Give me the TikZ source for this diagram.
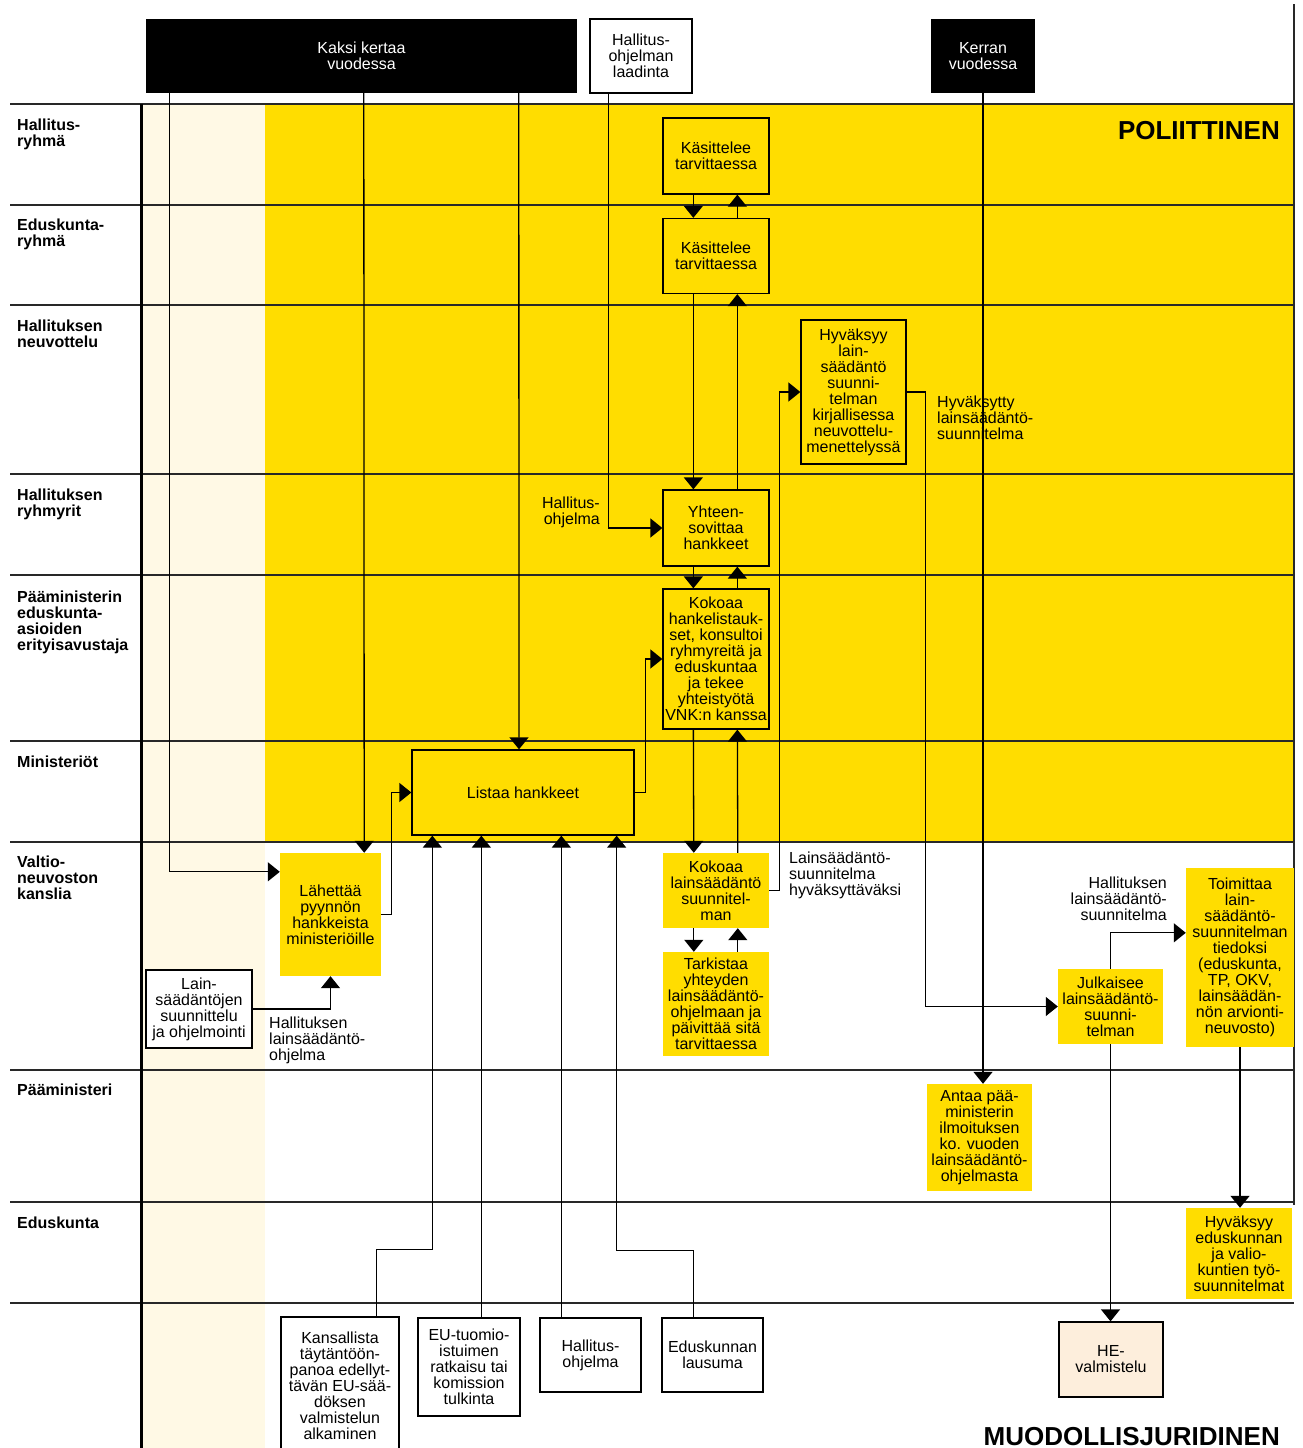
\documentclass[tikz,border=0pt]{standalone}
\usepackage{fontspec}
\setmainfont{Liberation Sans}
\usepackage{tikz}
\usetikzlibrary{arrows.meta}
\usetikzlibrary{calc}

\begin{document}
\begin{tikzpicture}[x=1pt,y=1pt,yscale=-1,xscale=1,
  box/.style={align=center, inner sep=0pt, font=\fontsize{16}{16}\selectfont},
  ybox/.style={box, draw, line width=1.3pt, fill={rgb, 255:red, 255; green, 221; blue, 0 }},
  yfill/.style={box, fill={rgb, 255:red, 255; green, 221; blue, 0 }},
  wbox/.style={box, draw, line width=1.3pt, fill=white},
  bbox/.style={box, fill=black, text=white},
  hebox/.style={box, draw, line width=1.3pt, fill={rgb, 255:red, 253; green, 238; blue, 220 }},
  arr/.style={line width=1.3pt, -{Triangle[width=19pt,length=12pt]}},
  laneline/.style={line width=1.2pt, color={rgb, 255:red, 40; green, 40; blue, 40 }},
  lanetext/.style={anchor=north west, align=left, inner sep=0pt, font=\fontsize{16}{16}\selectfont\bfseries},
  note/.style={align=left, inner sep=0pt, font=\fontsize{16}{16}\selectfont},
  big/.style={inner sep=0pt, font=\fontsize{26}{26}\selectfont\bfseries}
]
\useasboundingbox (0,0) rectangle (1302,1448);
\clip (0,0) rectangle (1302,1448);

%Shape: Rectangle
\fill [fill={rgb, 255:red, 255; green, 249; blue, 229 }] (141,104) rectangle (265,1448);
%Shape: Rectangle
\fill [fill={rgb, 255:red, 255; green, 221; blue, 0 }] (265,104) rectangle (1294,842);

%Straight Lines
\draw [laneline] (10,104) -- (1294,104);
\draw [laneline] (10,205) -- (1294,205);
\draw [laneline] (10,305) -- (1294,305);
\draw [laneline] (10,474) -- (1294,474);
\draw [laneline] (10,575) -- (1294,575);
\draw [laneline] (10,741) -- (1294,741);
\draw [laneline] (10,842) -- (1294,842);
\draw [laneline] (10,1070) -- (1294,1070);
\draw [laneline] (10,1202) -- (1294,1202);
\draw [laneline] (10,1303) -- (1294,1303);
%Straight Lines
\draw [laneline] (1294,4) -- (1294,1205);
%Straight Lines
\draw [line width=3pt] (141,104) -- (141,1448);

% Text Node
\draw (17,119) node [lanetext] (laneHr) {Hallitus-\\ryhmä};
% Text Node
\draw (17,219) node [lanetext] (laneEr) {Eduskunta-\\ryhmä};
% Text Node
\draw (17,320) node [lanetext] (laneHn) {Hallituksen\\neuvottelu};
% Text Node
\draw (17,489) node [lanetext] (laneHry) {Hallituksen\\ryhmyrit};
% Text Node
\draw (17,591) node [lanetext] (lanePme) {Pääministerin\\eduskunta-\\asioiden\\erityisavustaja};
% Text Node
\draw (17,756) node [lanetext] (laneMin) {Ministeriöt};
% Text Node
\draw (17,856) node [lanetext] (laneVnk) {Valtio-\\neuvoston\\kanslia};
% Text Node
\draw (17,1084) node [lanetext] (lanePm) {Pääministeri};
% Text Node
\draw (17,1217) node [lanetext] (laneEd) {Eduskunta};

%Shape: Rectangle
\draw (361.5,56) node [bbox, minimum width=431pt, minimum height=74pt] (kaksi) {Kaksi kertaa\\vuodessa};
%Shape: Rectangle
\draw (641,56) node [wbox, minimum width=102pt, minimum height=74pt] (laadinta) {Hallitus-\\ohjelman\\laadinta};
%Shape: Rectangle
\draw (983,56) node [bbox, minimum width=104pt, minimum height=74pt] (kerran) {Kerran\\vuodessa};

%Shape: Rectangle
\draw (716,156) node [ybox, minimum width=106pt, minimum height=76pt] (kasA) {Käsittelee\\tarvittaessa};
%Shape: Rectangle
\draw (716,256) node [ybox, minimum width=106pt, minimum height=75pt] (kasB) {Käsittelee\\tarvittaessa};
%Shape: Rectangle
\draw (853.5,392) node [ybox, minimum width=105pt, minimum height=144pt] (hyvaksyy) {Hyväksyy\\lain-\\säädäntö\\suunni-\\telman\\kirjallisessa\\neuvottelu-\\menettelyssä};
%Shape: Rectangle
\draw (716,528) node [ybox, minimum width=106pt, minimum height=76pt] (yhteen) {Yhteen-\\sovittaa\\hankkeet};
%Shape: Rectangle
\draw (716,659) node [ybox, minimum width=106pt, minimum height=140pt] (kokoaaH) {Kokoaa\\hankelistauk-\\set, konsultoi\\ryhmyreitä ja\\eduskuntaa\\ja tekee\\yhteistyötä\\VNK:n kanssa};
%Shape: Rectangle
\draw (523,792.5) node [ybox, minimum width=222pt, minimum height=85pt] (listaa) {Listaa hankkeet};

%Shape: Rectangle
\draw (330.5,914.5) node [yfill, minimum width=101pt, minimum height=123pt] (lahettaa) {Lähettää\\pyynnön\\hankkeista\\ministeriöille};
%Shape: Rectangle
\draw (716,890.5) node [yfill, minimum width=106pt, minimum height=75pt] (kokoaaL) {Kokoaa\\lainsäädäntö\\suunnitel-\\man};
%Shape: Rectangle
\draw (716,1004) node [yfill, minimum width=106pt, minimum height=104pt] (tarkistaa) {Tarkistaa\\yhteyden\\lainsäädäntö-\\ohjelmaan ja\\päivittää sitä\\tarvittaessa};
%Shape: Rectangle
\draw (1110.5,1006.5) node [yfill, minimum width=105pt, minimum height=75pt] (julkaisee) {Julkaisee\\lainsäädäntö-\\suunni-\\telman};
%Shape: Rectangle
\draw (1240,957.5) node [yfill, minimum width=108pt, minimum height=179pt] (toimittaa) {Toimittaa\\lain-\\säädäntö-\\suunnitelman\\tiedoksi\\(eduskunta,\\TP, OKV,\\lainsäädän-\\nön arvionti-\\neuvosto)};
%Shape: Rectangle
\draw (979.5,1137.5) node [yfill, minimum width=105pt, minimum height=107pt] (antaa) {Antaa pää-\\ministerin\\ilmoituksen\\ko. vuoden\\lainsäädäntö-\\ohjelmasta};
%Shape: Rectangle
\draw (1239,1253.5) node [yfill, minimum width=106pt, minimum height=91pt] (hyvEd) {Hyväksyy\\eduskunnan\\ja valio-\\kuntien työ-\\suunnitelmat};

%Shape: Rectangle
\draw (199,1009) node [wbox, minimum width=106pt, minimum height=78pt] (lainsuun) {Lain-\\säädäntöjen\\suunnittelu\\ja ohjelmointi};
%Shape: Rectangle
\draw (340,1386) node [wbox, minimum width=118pt, minimum height=138pt] (kansallista) {Kansallista\\täytäntöön-\\panoa edellyt-\\tävän EU-sää-\\döksen\\valmistelun\\alkaminen};
%Shape: Rectangle
\draw (469,1367) node [wbox, minimum width=102pt, minimum height=98pt] (eutuom) {EU-tuomio-\\istuimen\\ratkaisu tai\\komission\\tulkinta};
%Shape: Rectangle
\draw (590.5,1355) node [wbox, minimum width=101pt, minimum height=74pt] (hohj) {Hallitus-\\ohjelma};
%Shape: Rectangle
\draw (712.5,1355) node [wbox, minimum width=101pt, minimum height=74pt] (edlaus) {Eduskunnan\\lausuma};
%Shape: Rectangle
\draw (1111,1359.5) node [hebox, minimum width=104pt, minimum height=75pt] (heval) {HE-\\valmistelu};

%Straight Lines
\draw [arr] ($(kaksi.south west)+(24,0)$) |- ($(lahettaa.north west)+(0,19)$);
\draw [arr] ($(kaksi.south west)+(218,0)$) -- ($(lahettaa.north east)+(-17,0)$);
\draw [arr] ($(kaksi.south west)+(373,0)$) -- ($(listaa.north)+(-4,0)$);
\draw [arr] ($(laadinta.south west)+(19,0)$) |- (yhteen.west);
\draw [arr] (kerran.south) -- (kerran.south |- antaa.north);
%Straight Lines
\draw [arr] ($(kasA.south west)+(31,0)$) -- ($(kasB.north west)+(31,0)$);
\draw [arr] ($(kasB.north west)+(75,0)$) -- ($(kasA.south west)+(75,0)$);
\draw [arr] ($(kasB.south west)+(31,0)$) -- ($(yhteen.north west)+(31,0)$);
\draw [arr] ($(yhteen.north west)+(75,0)$) -- ($(kasB.south west)+(75,0)$);
\draw [arr] ($(yhteen.south west)+(31,0)$) -- ($(kokoaaH.north west)+(31,0)$);
\draw [arr] ($(kokoaaH.north west)+(75,0)$) -- ($(yhteen.south west)+(75,0)$);
\draw [arr] ($(kokoaaH.south west)+(31,0)$) -- ($(kokoaaL.north west)+(31,0)$);
\draw [arr] ($(kokoaaL.north west)+(75,0)$) -- ($(kokoaaH.south west)+(75,0)$);
\draw [arr] ($(kokoaaL.south west)+(31,0)$) -- ($(tarkistaa.north west)+(31,0)$);
\draw [arr] ($(tarkistaa.north west)+(75,0)$) -- ($(kokoaaL.south west)+(75,0)$);
%Straight Lines
\draw [arr] (kokoaaL.east) -- ++(10,0) |- (hyvaksyy.west);
\draw [arr] (hyvaksyy.east) -- ++(19,0) |- (julkaisee.west);
\draw [arr] (julkaisee.north) |- ($(toimittaa.north west)+(0,65)$);
\draw [arr] (julkaisee.south) -- (julkaisee.south |- heval.north);
\draw [arr] (toimittaa.south) -- (toimittaa.south |- hyvEd.north);
%Straight Lines
\draw [arr] (listaa.east) -- ++(11,0) |- (kokoaaH.west);
\draw [arr] (lahettaa.east) -- ++(10,0) |- (listaa.west);
\draw [arr] (lainsuun.east) -| (lahettaa.south);
%Straight Lines
\draw [arr] ($(kansallista.north west)+(96,0)$) -- ++(0,-67) -| ($(listaa.south west)+(21,0)$);
\draw [arr] ($(eutuom.north west)+(64,0)$) -- ($(listaa.south west)+(70,0)$);
\draw [arr] ($(hohj.north west)+(22,0)$) -- ($(listaa.south west)+(150,0)$);
\draw [arr] ($(edlaus.north west)+(32,0)$) -- ++(0,-67) -| ($(listaa.south east)+(-18,0)$);

% Text Node
\draw (600,512) node [note, anchor=east, align=right] (hoNote) {Hallitus-\\ohjelma};
% Text Node
\draw (937,418) node [note, anchor=west] (hyvNote) {Hyväksytty\\lainsäädäntö-\\suunnitelma};
% Text Node
\draw (789,875) node [note, anchor=west] (lsNote) {Lainsäädäntö-\\suunnitelma\\hyväksyttäväksi};
% Text Node
\draw (1167,899) node [note, anchor=east, align=right] (hlsNote) {Hallituksen\\lainsäädäntö-\\suunnitelma};
% Text Node
\draw (269,1040) node [note, anchor=west] (hloNote) {Hallituksen\\lainsäädäntö-\\ohjelma};
% Text Node
\draw (1280,139) node [big, anchor=base east] (polit) {POLIITTINEN};
% Text Node
\draw (1280,1445) node [big, anchor=base east] (muod) {MUODOLLISJURIDINEN};

\end{tikzpicture}
\end{document}
